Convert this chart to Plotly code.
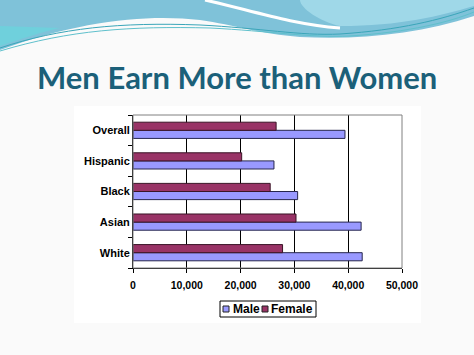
import plotly.graph_objects as go

categories = ["White", "Asian", "Black", "Hispanic", "Overall"]
male = [42600, 42400, 30600, 26200, 39400]
female = [27800, 30300, 25500, 20200, 26600]
x_ticks = [0, 10000, 20000, 30000, 40000, 50000]
x_tick_labels = ["0", "10,000", "20,000", "30,000", "40,000", "50,000"]
series_names = ["Male", "Female"]
series_colors = ["#9999ff", "#993366"]
title_text = "Men Earn More than Women"

W, H = 474, 355
L, R, T, B = 133, 402, 115, 268

def px(x):
    return (x - L) / (R - L)

def py(y):
    return (B - y) / (B - T)

def path(pts_str):
    out = []
    toks = pts_str.replace(",", " ").split()
    i = 0
    while i < len(toks):
        t = toks[i]
        if t.isalpha():
            out.append(t)
            i += 1
        else:
            x = float(toks[i]); y = float(toks[i + 1])
            out.append(f"{px(x):.5f},{py(y):.5f}")
            i += 2
    return " ".join(out)

fig = go.Figure()
fig.add_trace(go.Bar(
    y=categories, x=male, name=series_names[0], orientation="h",
    marker=dict(color=series_colors[0], line=dict(color="#26264d", width=1)),
))
fig.add_trace(go.Bar(
    y=categories, x=female, name=series_names[1], orientation="h",
    marker=dict(color=series_colors[1], line=dict(color="#3a1426", width=1)),
))

shapes = []
# chart panel
shapes.append(dict(type="rect", xref="paper", yref="paper", layer="below",
                   x0=px(74), x1=px(421), y0=py(323), y1=py(106),
                   fillcolor="white", line=dict(width=0)))
# wave decorations
shapes.append(dict(type="path", xref="paper", yref="paper", layer="below",
                   path=path("M 0 0 L 474 0 L 474 16 C 420 34 360 40 300 37 C 260 34 235 25 200 20 C 150 14 80 20 0 50 Z"),
                   fillcolor="#7fc2d9", line=dict(width=0)))
shapes.append(dict(type="path", xref="paper", yref="paper", layer="below",
                   path=path("M 300 0 L 474 0 L 474 6 C 440 16 400 26 340 26 C 320 22 300 8 300 0 Z"),
                   fillcolor="#9fd8e8", line=dict(width=0)))
shapes.append(dict(type="path", xref="paper", yref="paper", layer="below",
                   path=path("M 205 0 C 250 10 290 24 340 28"),
                   line=dict(color="white", width=3)))
shapes.append(dict(type="path", xref="paper", yref="paper", layer="below",
                   path=path("M 0 48 C 60 28 120 22 200 25 C 260 28 300 36 340 34 C 400 30 440 20 474 8"),
                   line=dict(color="#3aa6b9", width=1)))
shapes.append(dict(type="path", xref="paper", yref="paper", layer="below",
                   path=path("M 0 51 C 70 30 130 26 210 28 C 270 31 310 38 350 36 C 410 32 450 22 474 12"),
                   line=dict(color="#5fc0cc", width=1)))
shapes.append(dict(type="path", xref="paper", yref="paper", layer="below",
                   path=path("M 0 46 C 30 36 45 31 60 28 L 0 26 Z"),
                   fillcolor="#6fd0dc", line=dict(width=0)))
# plot border (gray)
shapes.append(dict(type="rect", xref="paper", yref="paper", layer="above",
                   x0=0, x1=1, y0=0, y1=1, line=dict(color="#808080", width=1)))

# manual legend (box + swatches)
shapes.append(dict(type="rect", xref="paper", yref="paper",
                   x0=px(220), x1=px(316), y0=py(317), y1=py(301),
                   fillcolor="white", line=dict(color="black", width=1)))
swatch_x = [223, 262]
text_x = [231, 269]
for sx, c in zip(swatch_x, series_colors):
    shapes.append(dict(type="rect", xref="paper", yref="paper",
                       x0=px(sx), x1=px(sx + 6), y0=py(312), y1=py(306),
                       fillcolor=c, line=dict(color="#222", width=1)))

annotations = [dict(
    text=f"<b>{title_text}</b>", xref="paper", yref="paper",
    x=px(237), y=py(77), xanchor="center", yanchor="middle", showarrow=False,
    font=dict(family="Lato, Open Sans, sans-serif", size=31, color="#1b6079"),
)]
for tx, name in zip(text_x, series_names):
    annotations.append(dict(
        text=f"<b>{name}</b>", xref="paper", yref="paper",
        x=px(tx), y=py(309), xanchor="left", yanchor="middle", showarrow=False,
        font=dict(family="Liberation Sans, Arial", size=12, color="black"),
    ))

fig.update_layout(
    width=W, height=H,
    margin=dict(l=L, r=W - R, t=T, b=H - B, pad=0),
    paper_bgcolor="#fafafa",
    plot_bgcolor="#c0c0c0",
    barmode="group",
    bargap=0.47,
    bargroupgap=0,
    shapes=shapes,
    showlegend=False,
    xaxis=dict(
        range=[0, 50000], tickvals=x_ticks, ticktext=[f"<b>{t}</b>" for t in x_tick_labels],
        showgrid=True, gridcolor="black", gridwidth=1,
        showline=True, linecolor="black", linewidth=1,
        ticks="outside", ticklen=4, tickcolor="black",
        tickfont=dict(family="Liberation Sans, Arial", size=10.5, color="black"),
        ticklabelstandoff=3,
        zeroline=False, fixedrange=True,
    ),
    yaxis=dict(
        categoryorder="array", categoryarray=categories,
        tickvals=categories, ticktext=[f"<b>{c}</b>" for c in categories],
        showline=True, linecolor="black", linewidth=1,
        ticks="outside", ticklen=4, tickcolor="black", tickson="boundaries",
        tickfont=dict(family="Liberation Sans, Arial", size=11, color="black"),
        showgrid=False, fixedrange=True,
    ),
    annotations=annotations,
)

fig.write_html("out.html")
